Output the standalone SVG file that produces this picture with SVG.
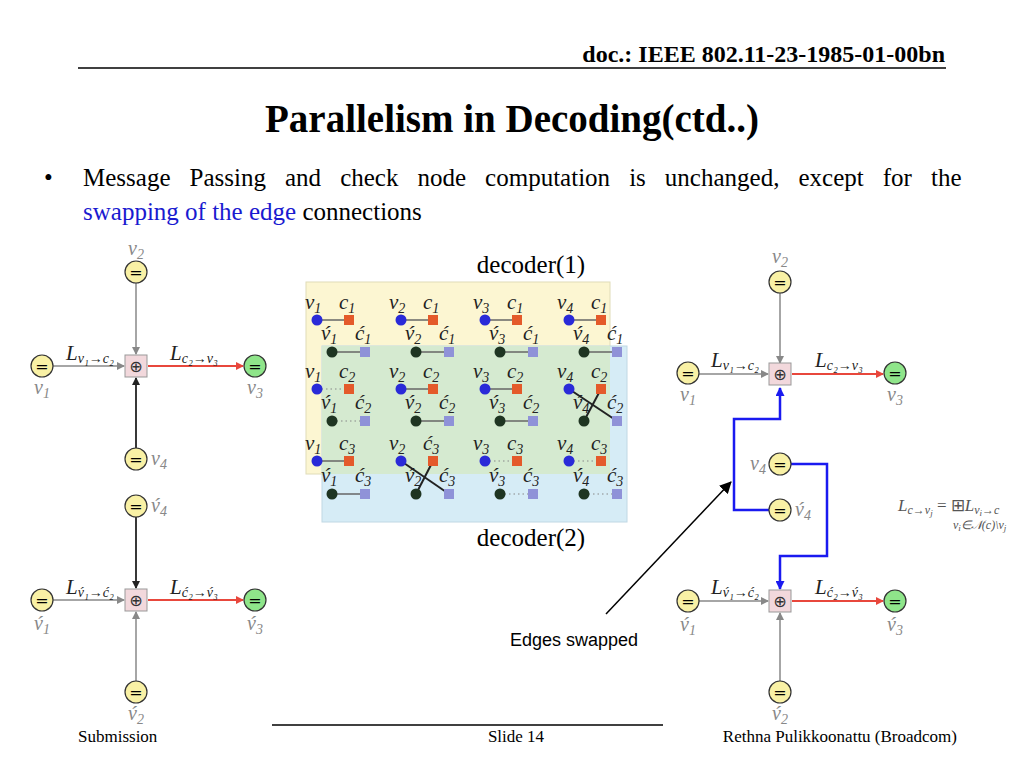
<svg xmlns="http://www.w3.org/2000/svg" width="1024" height="768" viewBox="0 0 1024 768">
<style>
.hd{font-family:"Liberation Serif",serif;font-weight:bold}
.tx{font-family:"Liberation Serif",serif;font-size:25px}
.ft{font-family:"Liberation Serif",serif;font-size:17px}
.m{font-family:"Liberation Serif",serif;font-style:italic;font-size:21px;fill:#222}
.g{font-family:"Liberation Serif",serif;font-style:italic;font-size:20px;fill:#888}
.vn{fill:#f9f1a5;stroke:#333;stroke-width:1.2}
.vg{fill:#8fe58a;stroke:#333;stroke-width:1.2}
.cb{fill:#f2d8dc;stroke:#999;stroke-width:1}
.eg{stroke:#888;stroke-width:1.5;fill:none}
.ek{stroke:#222;stroke-width:1.8;fill:none}
.er{stroke:#e8473c;stroke-width:2;fill:none}
.eb{stroke:#1a1af0;stroke-width:2.5;fill:none}
.sm{font-family:"Liberation Serif",serif;font-style:italic;font-size:21px;fill:#222}
.gl{stroke:#666;stroke-width:1.5}
.dl{stroke:#888;stroke-width:1.2;stroke-dasharray:1.5 3}
.eq{font-family:"DejaVu Sans",sans-serif;font-size:16px}
</style>
<defs>
<marker id="ag" markerWidth="8" markerHeight="8" refX="7" refY="4" orient="auto" markerUnits="userSpaceOnUse"><path d="M0,0 L8,4 L0,8 z" fill="#888"/></marker>
<marker id="ak" markerWidth="8" markerHeight="8" refX="7" refY="4" orient="auto" markerUnits="userSpaceOnUse"><path d="M0,0 L8,4 L0,8 z" fill="#222"/></marker>
<marker id="ar" markerWidth="8" markerHeight="8" refX="7" refY="4" orient="auto" markerUnits="userSpaceOnUse"><path d="M0,0 L8,4 L0,8 z" fill="#e8473c"/></marker>
<marker id="ab" markerWidth="9" markerHeight="9" refX="8" refY="4.5" orient="auto" markerUnits="userSpaceOnUse"><path d="M0,0 L9,4.5 L0,9 z" fill="#1a1af0"/></marker>
<marker id="aa" markerWidth="12" markerHeight="12" refX="11" refY="6" orient="auto" markerUnits="userSpaceOnUse"><path d="M0,0 L12,6 L0,12 z" fill="#000"/></marker>
</defs>
<rect width="1024" height="768" fill="#fff"/>
<text class="hd" x="945" y="62" font-size="24" text-anchor="end">doc.: IEEE 802.11-23-1985-01-00bn</text>
<line x1="78" y1="68" x2="946" y2="68" stroke="#000" stroke-width="1.3"/>
<text class="hd" x="512" y="132" font-size="39" text-anchor="middle">Parallelism in Decoding(ctd..)</text>
<text class="tx" x="44" y="186">•</text>
<text class="tx" x="83" y="186" word-spacing="12.8">Message Passing and check node computation is unchanged, except for the</text>
<text class="tx" x="83" y="220"><tspan fill="#1a1ad0">swapping of the edge</tspan> connections</text>

<g id="connectors">
<line class="eg" x1="136" y1="283" x2="136" y2="354" marker-end="url(#ag)"/>
<line class="eg" x1="53" y1="366" x2="124" y2="366" marker-end="url(#ag)"/>
<line class="er" x1="148" y1="366" x2="243" y2="366" marker-end="url(#ar)"/>
<line class="ek" x1="136" y1="448" x2="136" y2="378" marker-end="url(#ak)"/>
<line class="ek" x1="136" y1="517" x2="136" y2="588" marker-end="url(#ak)"/>
<line class="eg" x1="53" y1="600" x2="124" y2="600" marker-end="url(#ag)"/>
<line class="er" x1="148" y1="600" x2="243" y2="600" marker-end="url(#ar)"/>
<line class="eg" x1="136" y1="681" x2="136" y2="612" marker-end="url(#ag)"/>
<line class="eg" x1="780" y1="293" x2="780" y2="363" marker-end="url(#ag)"/>
<line class="eg" x1="699" y1="374" x2="768" y2="374" marker-end="url(#ag)"/>
<line class="er" x1="792" y1="374" x2="883" y2="374" marker-end="url(#ar)"/>
<path class="eb" d="M769,510 H734 V419 H780 V388" marker-end="url(#ab)"/>
<path class="eb" d="M791,464 H827 V556 H780 V589" marker-end="url(#ab)"/>
<line class="eg" x1="699" y1="601" x2="768" y2="601" marker-end="url(#ag)"/>
<line class="er" x1="792" y1="601" x2="883" y2="601" marker-end="url(#ar)"/>
<line class="eg" x1="780" y1="681" x2="780" y2="613" marker-end="url(#ag)"/>
<line x1="606" y1="614" x2="731" y2="482" stroke="#000" stroke-width="1.5" marker-end="url(#aa)"/>
</g>

<g id="graph1">
<circle class="vn" cx="136" cy="272" r="11"/><text x="136" y="278" text-anchor="middle" class="eq">=</text>
<text class="g" x="136" y="255" text-anchor="middle">v<tspan font-size="14" dy="4">2</tspan></text>
<circle class="vn" cx="42" cy="366" r="11"/><text x="42" y="372" text-anchor="middle" class="eq">=</text>
<text class="g" x="42" y="394" text-anchor="middle">v<tspan font-size="14" dy="4">1</tspan></text>
<circle class="vg" cx="255" cy="366" r="11"/><text x="255" y="372" text-anchor="middle" class="eq">=</text>
<text class="g" x="255" y="394" text-anchor="middle">v<tspan font-size="14" dy="4">3</tspan></text>
<circle class="vn" cx="136" cy="459" r="11"/><text x="136" y="465" text-anchor="middle" class="eq">=</text>
<text class="g" x="151" y="465">v<tspan font-size="14" dy="4">4</tspan></text>
<rect class="cb" x="125" y="355" width="22" height="22"/><text x="136" y="372" text-anchor="middle" class="eq" fill="#333">⊕</text>
<text class="m" x="66" y="360" font-size="19">L<tspan font-size="14" dy="3">v₁→c₂</tspan></text>
<text class="m" x="170" y="360" font-size="19" fill="#e8473c">L<tspan font-size="14" dy="3">c₂→v₃</tspan></text>
</g>
<g id="graph2">
<circle class="vn" cx="136" cy="506" r="11"/><text x="136" y="512" text-anchor="middle" class="eq">=</text>
<text class="g" x="151" y="512">v́<tspan font-size="14" dy="4">4</tspan></text>
<circle class="vn" cx="42" cy="600" r="11"/><text x="42" y="606" text-anchor="middle" class="eq">=</text>
<text class="g" x="42" y="630" text-anchor="middle">v́<tspan font-size="14" dy="4">1</tspan></text>
<circle class="vg" cx="255" cy="600" r="11"/><text x="255" y="606" text-anchor="middle" class="eq">=</text>
<text class="g" x="255" y="630" text-anchor="middle">v́<tspan font-size="14" dy="4">3</tspan></text>
<circle class="vn" cx="136" cy="692" r="11"/><text x="136" y="698" text-anchor="middle" class="eq">=</text>
<text class="g" x="136" y="720" text-anchor="middle">v́<tspan font-size="14" dy="4">2</tspan></text>
<rect class="cb" x="125" y="589" width="22" height="22"/><text x="136" y="606" text-anchor="middle" class="eq" fill="#333">⊕</text>
<text class="m" x="66" y="594" font-size="19">L<tspan font-size="14" dy="3">v́₁→ć₂</tspan></text>
<text class="m" x="170" y="594" font-size="19" fill="#e8473c">L<tspan font-size="14" dy="3">ć₂→v́₃</tspan></text>
</g>

<g id="decoders">
<rect x="306" y="282" width="304" height="192" fill="#fcf6d2" stroke="#e0dcb8"/>
<rect x="322" y="346" width="305" height="176" fill="#d6ecf6" stroke="#c0d8e4"/>
<rect x="322" y="346" width="288" height="128" fill="#d5ead0"/>
<text x="531" y="273" text-anchor="middle" font-family="Liberation Serif,serif" font-size="25">decoder(1)</text>
<text x="531" y="546" text-anchor="middle" font-family="Liberation Serif,serif" font-size="25">decoder(2)</text>
<g class="sm">
<text x="305" y="309">v<tspan font-size="14" dy="4">1</tspan></text><text x="339" y="309">c<tspan font-size="14" dy="4">1</tspan></text>
<text x="389" y="309">v<tspan font-size="14" dy="4">2</tspan></text><text x="423" y="309">c<tspan font-size="14" dy="4">1</tspan></text>
<text x="473" y="309">v<tspan font-size="14" dy="4">3</tspan></text><text x="507" y="309">c<tspan font-size="14" dy="4">1</tspan></text>
<text x="557" y="309">v<tspan font-size="14" dy="4">4</tspan></text><text x="591" y="309">c<tspan font-size="14" dy="4">1</tspan></text>
<text x="321" y="340">v́<tspan font-size="14" dy="4">1</tspan></text><text x="355" y="340">ć<tspan font-size="14" dy="4">1</tspan></text>
<text x="405" y="340">v́<tspan font-size="14" dy="4">2</tspan></text><text x="439" y="340">ć<tspan font-size="14" dy="4">1</tspan></text>
<text x="489" y="340">v́<tspan font-size="14" dy="4">3</tspan></text><text x="523" y="340">ć<tspan font-size="14" dy="4">1</tspan></text>
<text x="573" y="340">v́<tspan font-size="14" dy="4">4</tspan></text><text x="607" y="340">ć<tspan font-size="14" dy="4">1</tspan></text>
<text x="305" y="378">v<tspan font-size="14" dy="4">1</tspan></text><text x="339" y="378">c<tspan font-size="14" dy="4">2</tspan></text>
<text x="389" y="378">v<tspan font-size="14" dy="4">2</tspan></text><text x="423" y="378">c<tspan font-size="14" dy="4">2</tspan></text>
<text x="473" y="378">v<tspan font-size="14" dy="4">3</tspan></text><text x="507" y="378">c<tspan font-size="14" dy="4">2</tspan></text>
<text x="557" y="378">v<tspan font-size="14" dy="4">4</tspan></text><text x="591" y="378">c<tspan font-size="14" dy="4">2</tspan></text>
<text x="321" y="409">v́<tspan font-size="14" dy="4">1</tspan></text><text x="355" y="409">ć<tspan font-size="14" dy="4">2</tspan></text>
<text x="405" y="409">v́<tspan font-size="14" dy="4">2</tspan></text><text x="439" y="409">ć<tspan font-size="14" dy="4">2</tspan></text>
<text x="489" y="409">v́<tspan font-size="14" dy="4">3</tspan></text><text x="523" y="409">ć<tspan font-size="14" dy="4">2</tspan></text>
<text x="573" y="409">v́<tspan font-size="14" dy="4">4</tspan></text><text x="607" y="409">ć<tspan font-size="14" dy="4">2</tspan></text>
<text x="305" y="450">v<tspan font-size="14" dy="4">1</tspan></text><text x="339" y="450">c<tspan font-size="14" dy="4">3</tspan></text>
<text x="389" y="450">v<tspan font-size="14" dy="4">2</tspan></text><text x="423" y="450">ć<tspan font-size="14" dy="4">3</tspan></text>
<text x="473" y="450">v<tspan font-size="14" dy="4">3</tspan></text><text x="507" y="450">c<tspan font-size="14" dy="4">3</tspan></text>
<text x="557" y="450">v<tspan font-size="14" dy="4">4</tspan></text><text x="591" y="450">c<tspan font-size="14" dy="4">3</tspan></text>
<text x="321" y="482">v́<tspan font-size="14" dy="4">1</tspan></text><text x="355" y="482">ć<tspan font-size="14" dy="4">3</tspan></text>
<text x="405" y="482">v́<tspan font-size="14" dy="4">2</tspan></text><text x="439" y="482">ć<tspan font-size="14" dy="4">3</tspan></text>
<text x="489" y="482">v́<tspan font-size="14" dy="4">3</tspan></text><text x="523" y="482">ć<tspan font-size="14" dy="4">3</tspan></text>
<text x="573" y="482">v́<tspan font-size="14" dy="4">4</tspan></text><text x="607" y="482">ć<tspan font-size="14" dy="4">3</tspan></text>
</g>
<g>
<line class="gl" x1="317" y1="320" x2="349" y2="320"/><line class="gl" x1="401" y1="320" x2="433" y2="320"/><line class="gl" x1="485" y1="320" x2="517" y2="320"/><line class="gl" x1="569" y1="320" x2="601" y2="320"/>
<line class="gl" x1="332" y1="352" x2="365" y2="352"/><line class="gl" x1="416" y1="352" x2="449" y2="352"/><line class="gl" x1="500" y1="352" x2="533" y2="352"/><line class="gl" x1="584" y1="352" x2="617" y2="352"/>
<line class="dl" x1="317" y1="389" x2="349" y2="389"/><line class="gl" x1="401" y1="389" x2="433" y2="389"/><line class="gl" x1="485" y1="389" x2="517" y2="389"/>
<line class="dl" x1="332" y1="421" x2="365" y2="421"/><line class="gl" x1="416" y1="421" x2="449" y2="421"/><line class="gl" x1="500" y1="421" x2="533" y2="421"/>
<line class="gl" x1="317" y1="461" x2="349" y2="461"/><line class="dl" x1="485" y1="461" x2="517" y2="461"/><line class="dl" x1="569" y1="461" x2="601" y2="461"/>
<line class="gl" x1="332" y1="494" x2="365" y2="494"/><line class="dl" x1="500" y1="494" x2="533" y2="494"/><line class="dl" x1="584" y1="494" x2="617" y2="494"/>
<line x1="569" y1="389" x2="617" y2="421" stroke="#222" stroke-width="2"/><line x1="601" y1="389" x2="584" y2="421" stroke="#222" stroke-width="2"/>
<line x1="401" y1="461" x2="449" y2="494" stroke="#222" stroke-width="2"/><line x1="433" y1="461" x2="416" y2="494" stroke="#222" stroke-width="2"/>
</g>
<g fill="#2a2ad8">
<circle cx="317" cy="320" r="5.5"/><circle cx="401" cy="320" r="5.5"/><circle cx="485" cy="320" r="5.5"/><circle cx="569" cy="320" r="5.5"/>
<circle cx="317" cy="389" r="5.5"/><circle cx="401" cy="389" r="5.5"/><circle cx="485" cy="389" r="5.5"/><circle cx="569" cy="389" r="5.5"/>
<circle cx="317" cy="461" r="5.5"/><circle cx="401" cy="461" r="5.5"/><circle cx="485" cy="461" r="5.5"/><circle cx="569" cy="461" r="5.5"/>
</g>
<g fill="#1f3522">
<circle cx="332" cy="352" r="5.5"/><circle cx="416" cy="352" r="5.5"/><circle cx="500" cy="352" r="5.5"/><circle cx="584" cy="352" r="5.5"/>
<circle cx="332" cy="421" r="5.5"/><circle cx="416" cy="421" r="5.5"/><circle cx="500" cy="421" r="5.5"/><circle cx="584" cy="421" r="5.5"/>
<circle cx="332" cy="494" r="5.5"/><circle cx="416" cy="494" r="5.5"/><circle cx="500" cy="494" r="5.5"/><circle cx="584" cy="494" r="5.5"/>
</g>
<g fill="#e45a2a">
<rect x="344" y="315" width="10" height="10"/><rect x="428" y="315" width="10" height="10"/><rect x="512" y="315" width="10" height="10"/><rect x="596" y="315" width="10" height="10"/>
<rect x="344" y="384" width="10" height="10"/><rect x="428" y="384" width="10" height="10"/><rect x="512" y="384" width="10" height="10"/><rect x="596" y="384" width="10" height="10"/>
<rect x="344" y="456" width="10" height="10"/><rect x="428" y="456" width="10" height="10"/><rect x="512" y="456" width="10" height="10"/><rect x="596" y="456" width="10" height="10"/>
</g>
<g fill="#8f92d8">
<rect x="360" y="347" width="10" height="10"/><rect x="444" y="347" width="10" height="10"/><rect x="528" y="347" width="10" height="10"/><rect x="612" y="347" width="10" height="10"/>
<rect x="360" y="416" width="10" height="10"/><rect x="444" y="416" width="10" height="10"/><rect x="528" y="416" width="10" height="10"/><rect x="612" y="416" width="10" height="10"/>
<rect x="360" y="489" width="10" height="10"/><rect x="444" y="489" width="10" height="10"/><rect x="528" y="489" width="10" height="10"/><rect x="612" y="489" width="10" height="10"/>
</g>
</g>

<g id="graph3">
<circle class="vn" cx="780" cy="282" r="11"/><text x="780" y="288" text-anchor="middle" class="eq">=</text>
<text class="g" x="780" y="263" text-anchor="middle">v<tspan font-size="14" dy="4">2</tspan></text>
<circle class="vn" cx="688" cy="373" r="11"/><text x="688" y="379" text-anchor="middle" class="eq">=</text>
<text class="g" x="688" y="401" text-anchor="middle">v<tspan font-size="14" dy="4">1</tspan></text>
<circle class="vg" cx="895" cy="373" r="11"/><text x="895" y="379" text-anchor="middle" class="eq">=</text>
<text class="g" x="895" y="401" text-anchor="middle">v<tspan font-size="14" dy="4">3</tspan></text>
<rect class="cb" x="769" y="363" width="22" height="22"/><text x="780" y="380" text-anchor="middle" class="eq" fill="#333">⊕</text>
<text class="m" x="711" y="367" font-size="19">L<tspan font-size="14" dy="3">v₁→c₂</tspan></text>
<text class="m" x="815" y="367" font-size="19" fill="#e8473c">L<tspan font-size="14" dy="3">c₂→v₃</tspan></text>
<circle class="vn" cx="780" cy="464" r="11"/><text x="780" y="470" text-anchor="middle" class="eq">=</text>
<text class="g" x="750" y="470">v<tspan font-size="14" dy="4">4</tspan></text>
<circle class="vn" cx="780" cy="510" r="11"/><text x="780" y="516" text-anchor="middle" class="eq">=</text>
<text class="g" x="795" y="516">v́<tspan font-size="14" dy="4">4</tspan></text>
</g>
<g id="graph4">
<circle class="vn" cx="688" cy="601" r="11"/><text x="688" y="607" text-anchor="middle" class="eq">=</text>
<text class="g" x="688" y="631" text-anchor="middle">v́<tspan font-size="14" dy="4">1</tspan></text>
<circle class="vg" cx="895" cy="601" r="11"/><text x="895" y="607" text-anchor="middle" class="eq">=</text>
<text class="g" x="895" y="631" text-anchor="middle">v́<tspan font-size="14" dy="4">3</tspan></text>
<rect class="cb" x="769" y="590" width="22" height="22"/><text x="780" y="607" text-anchor="middle" class="eq" fill="#333">⊕</text>
<text class="m" x="711" y="594" font-size="19">L<tspan font-size="14" dy="3">v́₁→ć₂</tspan></text>
<text class="m" x="815" y="594" font-size="19" fill="#e8473c">L<tspan font-size="14" dy="3">ć₂→v́₃</tspan></text>
<circle class="vn" cx="780" cy="692" r="11"/><text x="780" y="698" text-anchor="middle" class="eq">=</text>
<text class="g" x="780" y="720" text-anchor="middle">v́<tspan font-size="14" dy="4">2</tspan></text>
</g>

<g id="formula" fill="#555" font-family="Liberation Serif,serif" font-style="italic">
<text x="898" y="511" font-size="17">L<tspan font-size="12" dy="3">c→v</tspan><tspan font-size="9" dy="2">j</tspan><tspan font-style="normal" dy="-5"> = ⊞</tspan>L<tspan font-size="12" dy="3">v</tspan><tspan font-size="9" dy="2">i</tspan><tspan font-size="12" dy="-2">→c</tspan></text>
<text x="953" y="529" font-size="12">v<tspan font-size="9" dy="2">i</tspan><tspan dy="-2">∈𝒩(c)\v</tspan><tspan font-size="9" dy="2">j</tspan></text>
</g>
<text x="510" y="646" font-family="Liberation Sans,sans-serif" font-size="18">Edges swapped</text>

<line x1="272" y1="725" x2="663" y2="725" stroke="#000" stroke-width="1.3"/>
<text class="ft" x="78" y="742">Submission</text>
<text class="ft" x="516" y="742" text-anchor="middle">Slide 14</text>
<text class="ft" x="957" y="742" text-anchor="end">Rethna Pulikkoonattu (Broadcom)</text>
</svg>
